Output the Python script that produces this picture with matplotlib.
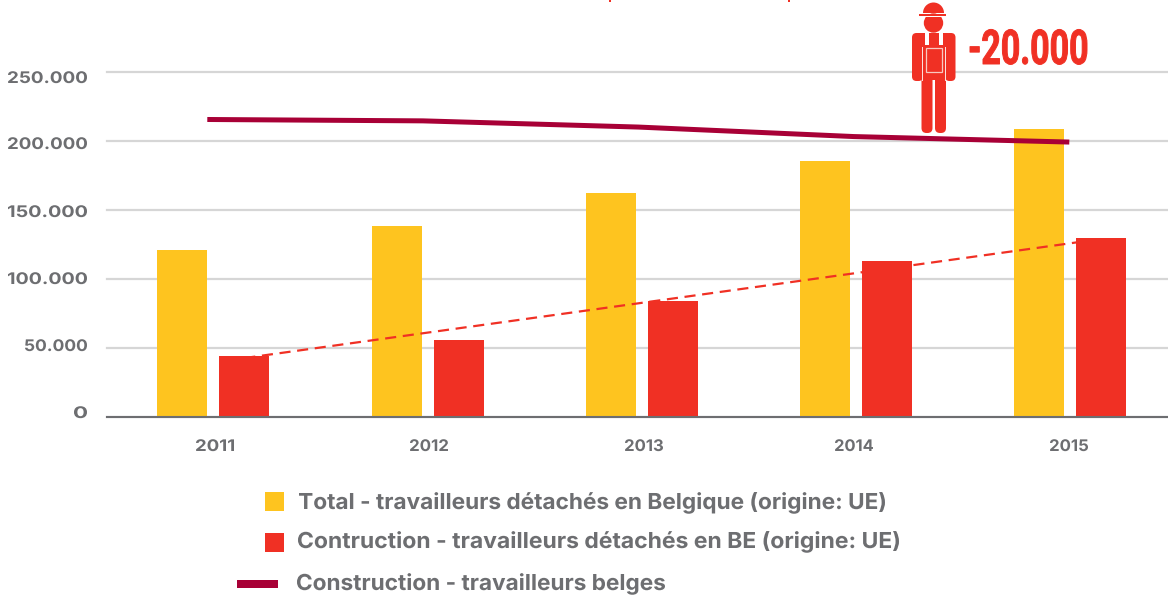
import matplotlib
matplotlib.use("Agg")
import matplotlib.pyplot as plt
from matplotlib.patches import Rectangle, FancyBboxPatch, Circle, Wedge
from matplotlib.text import Text
from matplotlib.textpath import TextPath
from matplotlib.font_manager import FontProperties
from matplotlib.transforms import Affine2D
from matplotlib.path import Path
from matplotlib.colors import to_rgb

W, H = 1168, 598
YEARS = ["2011", "2012", "2013", "2014", "2015"]
TOTAL_UE = [121000, 138600, 162600, 185800, 209000]
CONSTR_UE = [44000, 55800, 84000, 113000, 129600]
CONSTR_BE = [215800, 214800, 210300, 203400, 199400]
TREND = [42500, 129000]
Y_TICKS = [0, 50000, 100000, 150000, 200000, 250000]
Y_LABELS = ["0", "50.000", "100.000", "150.000", "200.000", "250.000"]
YEAR_LABEL_X = [215, 429, 644, 854, 1069]
Y_LABEL_Y = [412, 345, 278, 211, 143, 77]
LEGEND = ["Total - travailleurs détachés en Belgique (origine: UE)",
          "Contruction - travailleurs détachés en BE (origine: UE)",
          "Construction - travailleurs belges"]

YELLOW, RED, MAROON, GRAY, GRID = "#fec41f", "#f03024", "#a80036", "#6d6e71", "#d6d6d6"


class FitText(Text):
    """Real text whose glyph outlines are scaled to a given pixel width."""
    def __init__(self, x, y, s, width_px, px, fam, stroke=0, **kw):
        super().__init__(x, y, s, **kw)
        self.width_px, self.px, self.fam, self.stroke = width_px, px, fam, stroke

    def draw(self, renderer):
        if not self.get_visible():
            return
        fp = FontProperties(family=self.fam, weight="bold")
        tp = TextPath((0, 0), self.get_text(), size=self.px, prop=fp)
        bb = tp.get_extents()
        sx = self.width_px / bb.width
        x, y = self.axes.transData.transform((self.get_position()))
        ha = self.get_ha()
        dx = {"left": -bb.x0 * sx, "right": -bb.x1 * sx,
              "center": -(bb.x0 + bb.x1) / 2 * sx}[ha]
        tr = Affine2D().scale(sx, 1).translate(x + dx, y)
        gc = renderer.new_gc()
        rgb = to_rgb(self.get_color())
        gc.set_foreground(rgb)
        gc.set_linewidth(self.stroke)
        gc.set_antialiased(True)
        renderer.draw_path(gc, Path(tp.vertices, tp.codes), tr, rgb)
        gc.restore()


fig = plt.figure(figsize=(W / 100, H / 100), dpi=100)
L, R, T, B = 107, 1168, 72.4, 416.6
ax = fig.add_axes([L / W, 1 - B / H, (R - L) / W, (B - T) / H])
STEP, X0 = 214.2, 213.3
ax.set_xlim((L - X0) / STEP, (R - X0) / STEP)
ax.set_ylim(0, 250000)
for s in ["top", "right", "left"]:
    ax.spines[s].set_visible(False)
ax.spines["bottom"].set_color("#6d6e71")
ax.spines["bottom"].set_linewidth(1.5)
ax.set_xticks(range(5))
ax.set_xticklabels([])
ax.set_yticks(Y_TICKS)
ax.set_yticklabels([])
ax.tick_params(length=0)
ax.grid(axis="y", color=GRID, lw=1.6, zorder=0)
ax.set_axisbelow(True)
for gl in ax.get_ygridlines():
    gl.set_clip_on(False)

xs = list(range(5))
bw, off = 50 / STEP, 31 / STEP
ax.bar([x - off for x in xs], TOTAL_UE, bw, color=YELLOW, zorder=2)
ax.bar([x + off for x in xs], CONSTR_UE, bw, color=RED, zorder=2)
ax.plot([0 + off, 4 + off], TREND, color=RED, lw=1.6, ls=(0, (5, 3)), zorder=3)
ax.plot([x * 215.5 / STEP - 6 / STEP for x in xs], CONSTR_BE, color=MAROON, lw=3.6,
        zorder=4, solid_capstyle="butt")

ov = fig.add_axes([0, 0, 1, 1], facecolor="none")
ov.set_xlim(0, W)
ov.set_ylim(H, 0)
ov.axis("off")


def fit(x, y, s, w, px, fam="Inter", color=GRAY, ha="left", stroke=0):
    t = FitText(x, y, s, w, px, fam, stroke=stroke, color=color, ha=ha)
    ov.add_artist(t)
    t.axes = ov
    return t


for x, s in zip(YEAR_LABEL_X, YEARS):
    fit(x, 451, s, 38, 16, ha="center")
Y_WIDTHS = [13, 62, 79, 79, 79, 79]
for y, s, w in zip(Y_LABEL_Y, Y_LABELS, Y_WIDTHS):
    fit(87, y + 6, s, w, 16, ha="right")

# legend
ov.add_patch(Rectangle((265, 492), 19, 19, color=YELLOW, lw=0))
ov.add_patch(Rectangle((265, 533), 19, 19, color=RED, lw=0))
ov.add_patch(Rectangle((237, 580), 41, 8, color=MAROON, lw=0))
LEG_W = [586, 601, 368]
for x, y, s, w in zip([299, 298, 297], [509, 548, 590], LEGEND, LEG_W):
    fit(x, y, s, w, 22)

# worker icon
def rr(x0, y0, x1, y1, r, c=RED):
    ov.add_patch(FancyBboxPatch((x0 + r, y0 + r), x1 - x0 - 2 * r, y1 - y0 - 2 * r,
                                boxstyle=f"round,pad={r},rounding_size={r}",
                                fc=c, ec="none", zorder=6))
def box(x0, y0, x1, y1, c=RED, z=6):
    ov.add_patch(Rectangle((x0, y0), x1 - x0, y1 - y0, fc=c, ec="none", zorder=z))

ov.add_patch(Wedge((933.5, 13), 10.5, 180, 360, fc=RED, ec="none", zorder=6))
box(919, 14, 945.5, 16)
ov.add_patch(Circle((933.5, 23), 9.7, fc=RED, ec="none", zorder=6))
box(919, 16, 945.5, 17, "white", 7)
rr(912, 33, 923, 81, 4.5)
rr(945, 33, 955.5, 81, 4.5)
rr(916, 33, 951, 46, 4)
box(923, 40, 945, 80)
box(922.4, 47, 923.2, 81, "#fbe0dc", 7)
box(944.8, 47, 945.6, 81, "#fbe0dc", 7)
box(925, 33, 929, 45, "white", 7)
box(938.5, 33, 942.5, 45, "white", 7)
rr(921.5, 75, 932.5, 133, 5)
rr(935, 75, 946, 133, 5)
ov.add_patch(Rectangle((925.5, 47.5), 16.5, 24, fc="none", ec="#f8c8c0", lw=0.9, zorder=8))

fit(970, 64, "-20.000", 117, 48, fam="Roboto", color=RED, stroke=0.7)

# clipped title remnants at the top edge
box(608.5, 0, 611, 1.5)
box(787.5, 0, 790, 1.5)

fig.savefig("out.png", dpi=100)
